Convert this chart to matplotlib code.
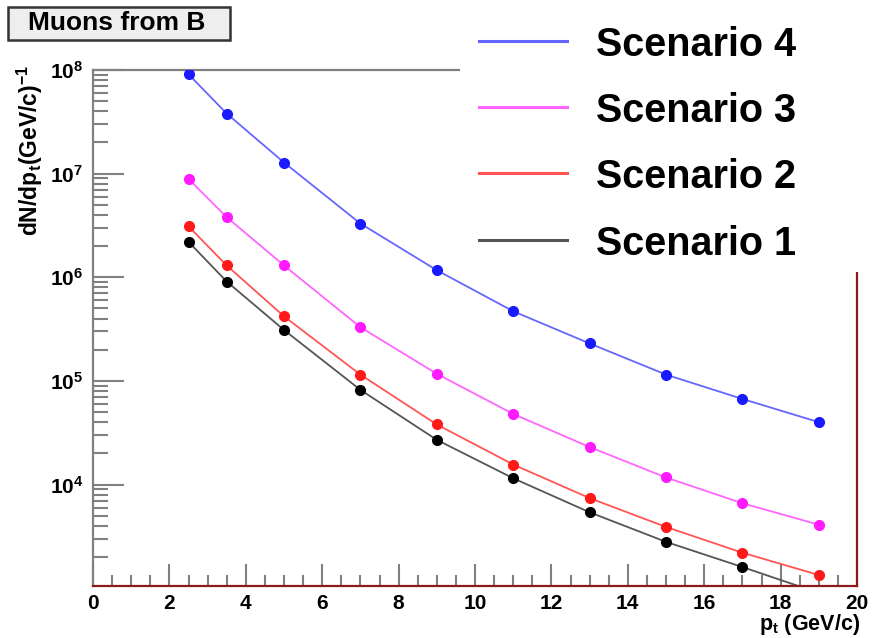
import numpy as np
import matplotlib
matplotlib.use("Agg")
import matplotlib.pyplot as plt
from matplotlib.patches import Rectangle
from matplotlib.lines import Line2D
from matplotlib.ticker import MultipleLocator, LogLocator, NullFormatter

plt.rcParams['font.family'] = ['Liberation Sans', 'DejaVu Sans']
plt.rcParams['font.weight'] = 'bold'
plt.rcParams['mathtext.fontset'] = 'custom'
plt.rcParams['mathtext.rm'] = 'Liberation Sans:bold'
plt.rcParams['mathtext.bf'] = 'Liberation Sans:bold'
plt.rcParams['mathtext.default'] = 'rm'

# pt bins (GeV/c)
pt = [2.5, 3.5, 5, 7, 9, 11, 13, 15, 17, 19]

# yields per scenario
scen4 = [9.1e7, 3.8e7, 1.28e7, 3.3e6, 1.17e6, 4.7e5, 2.3e5, 1.15e5, 6.7e4, 4.0e4]
scen3 = [8.9e6, 3.8e6, 1.3e6, 3.3e5, 1.17e5, 4.8e4, 2.3e4, 1.17e4, 6.6e3, 4.1e3]
scen2 = [3.1e6, 1.3e6, 4.2e5, 1.15e5, 3.8e4, 1.56e4, 7.4e3, 3.9e3, 2.2e3, 1.34e3]
scen1 = [2.2e6, 9.1e5, 3.1e5, 8.2e4, 2.7e4, 1.15e4, 5.4e3, 2.8e3, 1.6e3, 9.0e2]

labels = ["Scenario 4", "Scenario 3", "Scenario 2", "Scenario 1"]
series = [scen4, scen3, scen2, scen1]
marker_colors = ["#1a1aff", "#ff1aff", "#ff1a1a", "#000000"]
line_colors = ["#6666ff", "#ff66ff", "#ff5555", "#555555"]

W, H = 876, 638
fig = plt.figure(figsize=(W / 100, H / 100), dpi=100)
ax = fig.add_axes([93 / W, 1 - 586 / H, (857 - 93) / W, (586 - 70) / H])

for ys, mc, lc in zip(series, marker_colors, line_colors):
    ax.plot(pt, ys, color=lc, lw=1.3, zorder=2)
    ax.plot(pt, ys, 'o', color=mc, ms=7, zorder=3)

ax.set_yscale('log')
ax.set_xlim(0, 20)
ax.set_ylim(1.05e3, 1e8)

gray = "#808080"
darkred = "#8b1a1a"
ax.spines['left'].set_color(gray)
ax.spines['top'].set_color(gray)
ax.spines['bottom'].set_color(darkred)
ax.spines['right'].set_color(darkred)
for s in ax.spines.values():
    s.set_linewidth(1.6)

ax.xaxis.set_major_locator(MultipleLocator(2))
ax.xaxis.set_minor_locator(MultipleLocator(0.5))
ax.yaxis.set_major_locator(LogLocator(base=10))
ax.yaxis.set_minor_locator(LogLocator(base=10, subs=np.arange(2, 10)))
ax.yaxis.set_minor_formatter(NullFormatter())

ax.tick_params(axis='x', which='major', direction='in', length=16, width=1.5,
               color=gray, labelsize=15, pad=6, top=False)
ax.tick_params(axis='x', which='minor', direction='in', length=8, width=1.5,
               color=gray, top=False)
ax.tick_params(axis='y', which='major', direction='in', length=22, width=1.5,
               color=gray, labelsize=15, pad=7, right=False)
ax.tick_params(axis='y', which='minor', direction='in', length=11, width=1.5,
               color=gray, right=False)
for lab in ax.get_xticklabels() + ax.get_yticklabels():
    lab.set_fontweight('bold')

# axis titles
fig.text(30 / W, 1 - 150 / H, r"dN/dp$_{t}$(GeV/c)$^{-1}$", rotation=90,
         ha='center', va='center', fontsize=16.5, fontweight='bold')
fig.text(860 / W, 1 - 612 / H, r"p$_{t}$ (GeV/c)", ha='right', va='top',
         fontsize=15.5, fontweight='bold')

# title box
fig.patches.append(Rectangle((8 / W, 1 - 40 / H), (230 - 8) / W, 33 / H,
                             transform=fig.transFigure, facecolor="#eeeeee",
                             edgecolor="#333333", lw=1.8, zorder=5))
fig.text(117 / W, 1 - 23.5 / H, "Muons from B", ha='center', va='center',
         fontsize=19, fontweight='bold', zorder=6)

# legend
fig.patches.append(Rectangle((460 / W, 1 - 272 / H), (W - 460) / W, 272 / H,
                             transform=fig.transFigure, facecolor="white",
                             edgecolor="none", zorder=5))
ys_leg = [41, 107, 173, 240]
for lab, lc, yl in zip(labels, line_colors, ys_leg):
    fig.lines.append(Line2D([479 / W, 567 / W], [1 - yl / H, 1 - yl / H],
                            transform=fig.transFigure, color=lc, lw=2.2, zorder=6))
    fig.text(596 / W, 1 - (yl + 4) / H, lab, ha='left', va='center',
             fontsize=28.5, fontweight='bold', zorder=6)

fig.savefig("out.png", dpi=100)
